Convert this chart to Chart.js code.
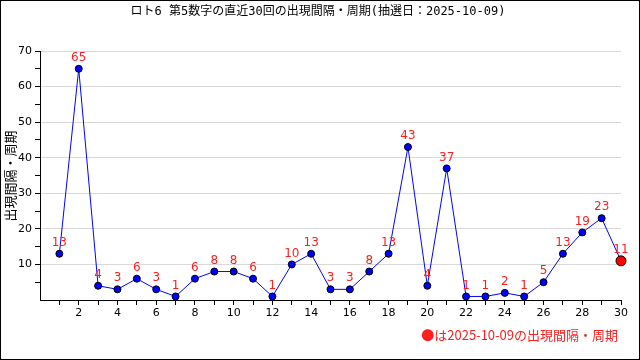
<!DOCTYPE html>
<html>
<head>
<meta charset="utf-8">
<script src="https://cdn.jsdelivr.net/npm/chart.js@4/dist/chart.umd.min.js"></script>
<style>
html,body{margin:0;padding:0;background:#fff;}
#wrap{width:640px;height:360px;}
</style>
</head>
<body>
<div id="wrap"><canvas id="c" width="640" height="360"></canvas></div>
<script>
const titleText = 'ロト6 第5数字の直近30回の出現間隔・周期(抽選日：2025-10-09)';
const yAxisTitle = '出現間隔・周期';
const noteText = '●は2025-10-09の出現間隔・周期';
const draws = [1,2,3,4,5,6,7,8,9,10,11,12,13,14,15,16,17,18,19,20,21,22,23,24,25,26,27,28,29,30];
const intervals = [13,65,4,3,6,3,1,6,8,8,6,1,10,13,3,3,8,13,43,4,37,1,1,2,1,5,13,19,23,11];
const xTicks = [2,4,6,8,10,12,14,16,18,20,22,24,26,28,30];
const yTicks = [10,20,30,40,50,60,70];

const FONT = '"DejaVu Sans", "Noto Sans CJK JP", sans-serif';
const MONO = '"DejaVu Sans Mono", "Noto Sans CJK JP", monospace';
const CJK = '"Noto Sans CJK JP", sans-serif';
const RED = 'rgb(255,30,30)';
const last = intervals.length - 1;

const decor = {
  id: 'decor',
  afterDatasetsDraw(chart) {
    const ctx = chart.ctx;
    const meta = chart.getDatasetMeta(0);
    ctx.save();
    ctx.fillStyle = RED;
    ctx.font = '12px ' + FONT;
    ctx.textAlign = 'center';
    ctx.textBaseline = 'middle';
    meta.data.forEach((p, i) => {
      ctx.fillText(String(intervals[i]), p.x, p.y - 11);
    });
    ctx.restore();
  },
  afterDraw(chart) {
    const ctx = chart.ctx;
    ctx.save();
    ctx.fillStyle = '#000';
    ctx.font = '12px ' + MONO;
    ctx.textAlign = 'center';
    ctx.textBaseline = 'middle';
    ctx.fillText(titleText, 318, 12);
    ctx.font = '13px ' + CJK;
    ctx.translate(10, 176);
    ctx.rotate(-Math.PI / 2);
    ctx.fillText(yAxisTitle, 0, 0);
    ctx.restore();
    ctx.save();
    ctx.fillStyle = RED;
    ctx.font = '13px ' + CJK;
    ctx.textAlign = 'right';
    ctx.textBaseline = 'middle';
    ctx.fillText(noteText, 618, 335);
    ctx.strokeStyle = '#000';
    ctx.lineWidth = 1;
    ctx.strokeRect(0.5, 0.5, 639, 359);
    ctx.restore();
  }
};

new Chart(document.getElementById('c'), {
  type: 'line',
  data: {
    datasets: [{
      data: draws.map((d, i) => ({x: d, y: intervals[i]})),
      borderColor: '#0000ff',
      borderWidth: 1,
      tension: 0,
      pointBackgroundColor: intervals.map((v, i) => i === last ? '#ff0000' : '#0000ff'),
      pointBorderColor: '#000',
      pointBorderWidth: 1,
      pointRadius: intervals.map((v, i) => i === last ? 5 : 3.5),
      clip: false
    }]
  },
  options: {
    responsive: false,
    animation: false,
    devicePixelRatio: 1,
    layout: {padding: {left: 0, top: 51, right: 19, bottom: 0}},
    plugins: {legend: {display: false}, tooltip: {enabled: false}, title: {display: false}},
    scales: {
      x: {
        type: 'linear', min: 0, max: 30,
        afterFit(s) { s.height = 60; },
        afterBuildTicks(s) { s.ticks = draws.map(v => ({value: v})); },
        border: {color: '#000', width: 1},
        grid: {drawOnChartArea: false, drawTicks: true, tickLength: 5, tickColor: '#000'},
        ticks: {
          autoSkip: false, maxRotation: 0, padding: 2,
          color: '#000', font: {family: FONT, size: 11},
          callback: v => xTicks.includes(v) ? String(v) : ''
        }
      },
      y: {
        min: 0, max: 70,
        afterFit(s) { s.width = 40; },
        afterBuildTicks(s) { const t = []; for (let v = 5; v <= 70; v += 5) t.push({value: v}); s.ticks = t; },
        border: {color: '#000', width: 1},
        grid: {
          drawTicks: true, tickLength: 5,
          color: ctx => (ctx.tick && yTicks.includes(ctx.tick.value)) ? '#d9d9d9' : 'rgba(0,0,0,0)',
          tickColor: '#000'
        },
        ticks: {
          autoSkip: false, padding: 3,
          color: '#000', font: {family: FONT, size: 11},
          callback: v => yTicks.includes(v) ? String(v) : ''
        }
      }
    }
  },
  plugins: [decor]
});
</script>
</body>
</html>
